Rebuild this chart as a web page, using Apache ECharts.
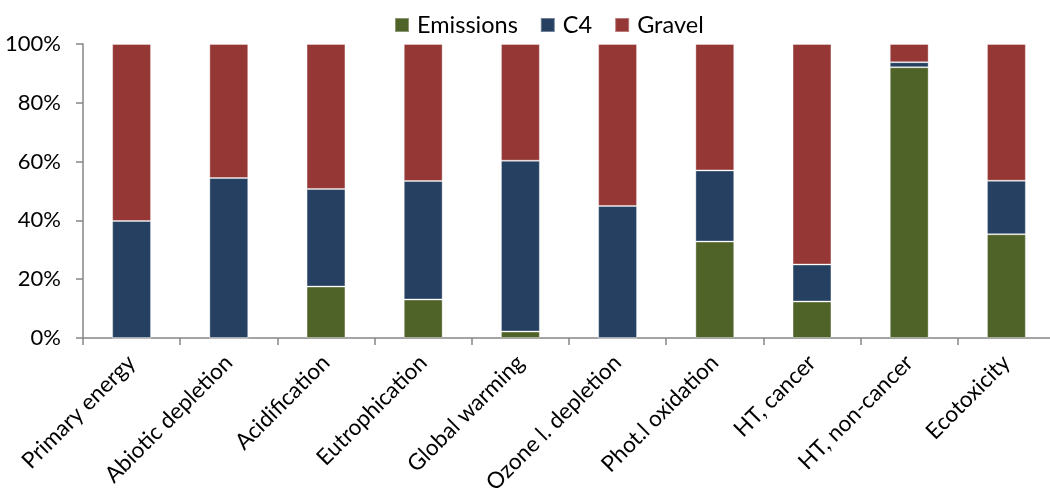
<!DOCTYPE html>
<html>
<head>
<meta charset="utf-8">
<script src="https://cdn.jsdelivr.net/npm/echarts@6/dist/echarts.min.js"></script>
<style>
  html, body { margin: 0; padding: 0; background: #fff; }
  #chart { width: 1050px; height: 494px; }
</style>
</head>
<body>
<div id="chart"></div>
<script>
// Impact categories along the x axis
const categories = [
  'Primary energy', 'Abiotic depletion', 'Acidification', 'Eutrophication',
  'Global warming', 'Ozone l. depletion', 'Phot.l oxidation', 'HT, cancer',
  'HT, non-cancer', 'Ecotoxicity'
];

// Share of each contributor (%) per category
const emissions = [0, 0, 17.5, 13.1, 2.2, 0, 32.8, 12.4, 92.1, 35.3];
const c4        = [39.8, 54.4, 33.2, 40.3, 58.1, 44.9, 24.2, 12.6, 1.7, 18.2];
const gravel    = [60.2, 45.6, 49.3, 46.6, 39.7, 55.1, 43.0, 75.0, 6.2, 46.5];

const yTicks = [0, 20, 40, 60, 80, 100];

const FONT = 'Lato';
const AXIS_GREY = '#868686';

const chart = echarts.init(document.getElementById('chart'), null, { renderer: 'canvas' });

function seriesOf(name, data, color) {
  return {
    name: name,
    type: 'bar',
    stack: 'total',
    data: data,
    barWidth: '40%',
    itemStyle: {
      color: color,
      borderColor: 'rgba(255,255,255,0.35)',
      borderWidth: 1
    },
    emphasis: { disabled: true }
  };
}

chart.setOption({
  animation: false,
  textStyle: { fontFamily: FONT },
  legend: {
    top: 8,
    left: 389,
    itemWidth: 14,
    itemHeight: 14,
    itemGap: 22,
    icon: 'rect',
    textStyle: { fontFamily: FONT, fontSize: 23.5, color: '#000', padding: [0, 0, 0, 3] },
    data: ['Emissions', 'C4', 'Gravel']
  },
  grid: {
    left: 83, top: 44, bottom: 156, width: 972,
    containLabel: false,
    outerBoundsMode: 'none'
  },
  xAxis: {
    type: 'category',
    data: categories,
    axisLine: { lineStyle: { color: AXIS_GREY, width: 1.5 } },
    axisTick: { show: true, length: 7, alignWithLabel: false, lineStyle: { color: AXIS_GREY, width: 1.5 } },
    axisLabel: {
      interval: 0,
      rotate: 45,
      margin: 21,
      fontFamily: FONT,
      fontSize: 22.5,
      color: '#000'
    }
  },
  yAxis: {
    type: 'value',
    min: yTicks[0],
    max: yTicks[yTicks.length - 1],
    interval: 20,
    axisLine: { show: true, lineStyle: { color: AXIS_GREY, width: 1.5 } },
    axisTick: { show: true, length: 7, lineStyle: { color: AXIS_GREY, width: 1.5 } },
    splitLine: { show: false },
    axisLabel: {
      formatter: '{value}%',
      margin: 22,
      fontFamily: FONT,
      fontSize: 22,
      color: '#000'
    }
  },
  series: [
    seriesOf('Emissions', emissions, '#4F6228'),
    seriesOf('C4', c4, '#254061'),
    seriesOf('Gravel', gravel, '#953735')
  ]
});
</script>
</body>
</html>
